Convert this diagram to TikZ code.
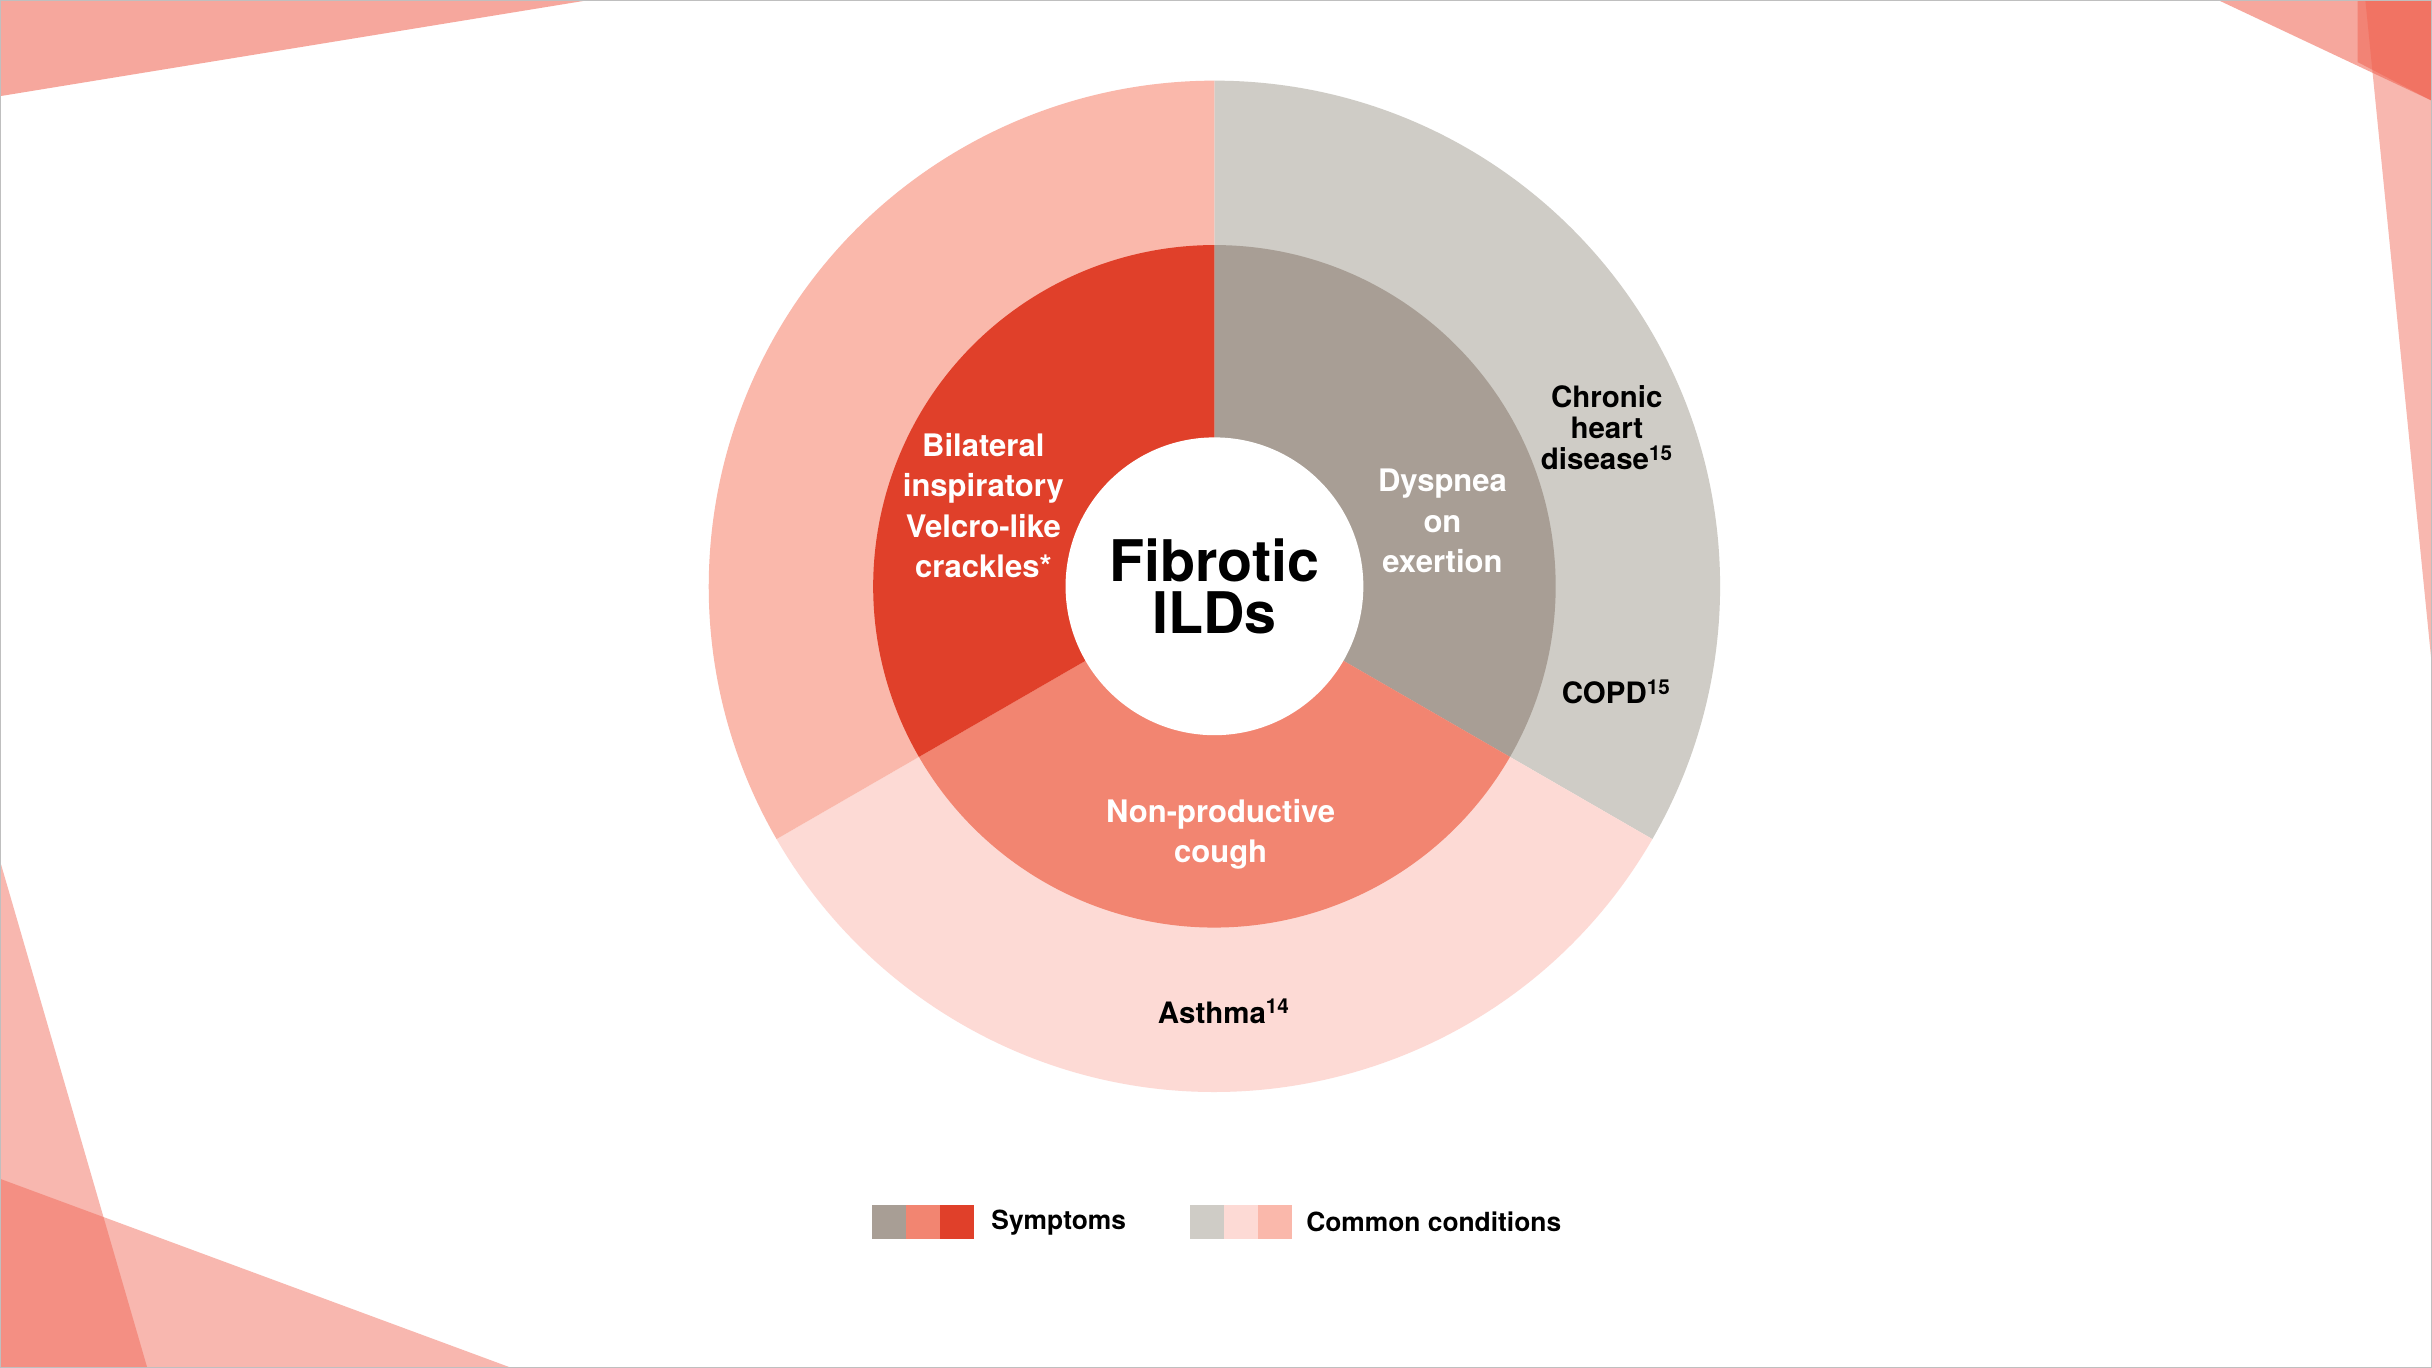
\documentclass[tikz,border=0pt]{standalone}
\usepackage{fontspec}
\setmainfont{TeX Gyre Heros}
\begin{document}
\begin{tikzpicture}[x=1pt,y=-1pt,
  lbl/.style={font=\bfseries\fontsize{20}{26}\selectfont,align=center,inner sep=0},
  wl/.style={lbl,text=white},
  sq/.style={minimum width=22pt,minimum height=22pt,inner sep=0,draw=none}]
\definecolor{gIn}{HTML}{A89E95}\definecolor{gOut}{HTML}{CFCCC6}
\definecolor{sIn}{HTML}{F28571}\definecolor{sOut}{HTML}{FDDAD5}
\definecolor{rIn}{HTML}{E0402A}\definecolor{rOut}{HTML}{FAB8AB}
\definecolor{deco}{HTML}{F0604E}
\useasboundingbox (0,0) rectangle (1568,882);
\fill[white] (0,0) rectangle (1568,882);
% decorations
\fill[deco,opacity=0.55] (0,0) -- (380,0) -- (0,62) -- cycle;
\fill[deco,opacity=0.55] (1430,0) -- (1568,0) -- (1568,65) -- cycle;
\fill[deco,opacity=0.5] (1520,0) -- (1568,0) -- (1568,65) -- (1520,40) -- cycle;
\fill[deco,opacity=0.45] (1525,0) -- (1568,0) -- (1568,430) -- cycle;
\fill[deco,opacity=0.45] (0,555) -- (95,882) -- (0,882) -- cycle;
\fill[deco,opacity=0.45] (0,760) -- (330,882) -- (0,882) -- cycle;
\draw[gray!50,line width=1.5] (0,0) rectangle (1568,882);
% rings
\coordinate (c) at (783,378);
\def\sect#1#2#3#4#5{\fill[#1] ($(c)+(#2:#4)$) arc[start angle=#2,end angle=#3,radius=#4] -- ($(c)+(#3:#5)$) arc[start angle=#3,end angle=#2,radius=#5] -- cycle;}
\begin{scope}[y=1pt]
\end{scope}
\fill[gOut] (c) ++(0,-326) arc[start angle=-90,end angle=30,radius=326] -- (c) -- cycle;
\fill[sOut] (c) ++(30:326) arc[start angle=30,end angle=150,radius=326] -- (c) -- cycle;
\fill[rOut] (c) ++(150:326) arc[start angle=150,end angle=270,radius=326] -- (c) -- cycle;
\fill[gIn] (c) ++(0,-220) arc[start angle=-90,end angle=30,radius=220] -- (c) -- cycle;
\fill[sIn] (c) ++(30:220) arc[start angle=30,end angle=150,radius=220] -- (c) -- cycle;
\fill[rIn] (c) ++(150:220) arc[start angle=150,end angle=270,radius=220] -- (c) -- cycle;
\fill[white] (c) circle[radius=96];
% texts
\node[inner sep=0,align=center,font=\bfseries\fontsize{37}{34}\selectfont] (t) at (783,378) {Fibrotic\\ILDs};
\node[wl] (b) at (634,326) {Bilateral\\inspiratory\\Velcro-like\\crackles*};
\node[wl] (d) at (930,336) {Dyspnea\\on\\exertion};
\node[wl] (n) at (787,538) {Non-productive\\cough};
\node[lbl,font=\bfseries\fontsize{19}{20}\selectfont] (h) at (1036,276) {Chronic\\heart\\disease\textsuperscript{15}};
\node[lbl,font=\bfseries\fontsize{19}{20}\selectfont] (p) at (1042,446) {COPD\textsuperscript{15}};
\node[lbl,font=\bfseries\fontsize{19}{20}\selectfont] (a) at (789,652) {Asthma\textsuperscript{14}};
% legend
\node[sq,fill=gIn] (l1) at (573,788) {};
\node[sq,fill=sIn] (l2) at (595,788) {};
\node[sq,fill=rIn] (l3) at (617,788) {};
\node[lbl,font=\bfseries\fontsize{17}{20}\selectfont,anchor=west] (ls) at (639,788) {Symptoms};
\node[sq,fill=gOut] (m1) at (778,788) {};
\node[sq,fill=sOut] (m2) at (800,788) {};
\node[sq,fill=rOut] (m3) at (822,788) {};
\node[lbl,font=\bfseries\fontsize{17}{20}\selectfont,anchor=west] (lc) at (842,788) {Common conditions};
\end{tikzpicture}
\end{document}
